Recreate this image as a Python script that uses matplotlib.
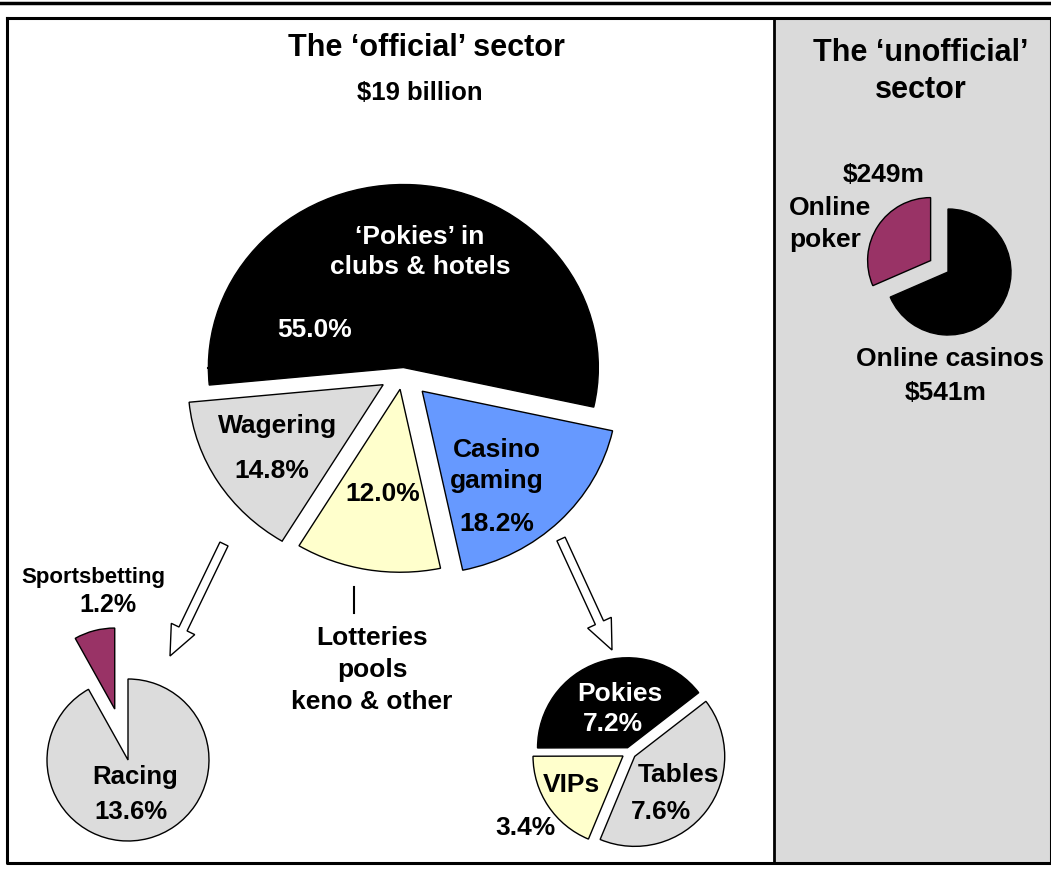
import matplotlib
matplotlib.use("Agg")
import matplotlib.pyplot as plt
from matplotlib.patches import Rectangle, FancyArrow

plt.rcParams['font.family'] = ['Liberation Sans', 'DejaVu Sans']
plt.rcParams['font.weight'] = 'bold'

W, H = 1051, 872

# official sector, share of $19 billion (%)
main_labels = ["'Pokies' in clubs & hotels", "Wagering", "Lotteries pools keno & other", "Casino gaming"]
main_values = [55.0, 14.8, 12.0, 18.2]
main_colors = ["black", "#dcdcdc", "#ffffcc", "#6699ff"]

# wagering split
wager_labels = ["Racing", "Sportsbetting"]
wager_values = [13.6, 1.2]
wager_colors = ["#dcdcdc", "#993366"]

# casino gaming split
casino_labels = ["Tables", "Pokies", "VIPs"]
casino_values = [7.6, 7.2, 3.4]
casino_colors = ["#dcdcdc", "black", "#ffffcc"]

# unofficial sector ($m)
online_labels = ["Online casinos", "Online poker"]
online_values = [541, 249]
online_colors = ["black", "#993366"]

fig = plt.figure(figsize=(W / 100, H / 100), dpi=100)

# background: frame and grey panel
bg = fig.add_axes([0, 0, 1, 1], zorder=0)
bg.set_xlim(0, W)
bg.set_ylim(H, 0)
bg.axis("off")
bg.add_patch(Rectangle((774, 18), W - 774, 845, fc="#dadada", ec="none"))
bg.plot([0, W], [3, 3], color="black", lw=2.5)
bg.plot([7, W, W, 7, 7], [18, 18, 863, 863, 18], color="black", lw=2.2)
bg.plot([774, 774], [18, 863], color="black", lw=2)


def pie_axes(cx, cy, rx, ry, zorder=1):
    # axes where one data unit is rx px wide and ry px tall, centred on (cx, cy) px
    span = 1.4
    ax = fig.add_axes([(cx - span * rx) / W, (H - cy - span * ry) / H,
                       2 * span * rx / W, 2 * span * ry / H], zorder=zorder)
    return ax


def finish(ax):
    ax.set_aspect("auto")
    ax.set_xlim(-1.4, 1.4)
    ax.set_ylim(-1.4, 1.4)
    ax.axis("off")
    ax.patch.set_alpha(0)


wp = dict(edgecolor="black", linewidth=1.0)

ax1 = pie_axes(403, 373, 195, 183)
ax1.pie(main_values, colors=main_colors, startangle=-12.5, counterclock=True,
        explode=[0.03, 0.12, 0.09, 0.14], wedgeprops=wp)
finish(ax1)

ax2 = pie_axes(128, 760, 81, 81)
ax2.pie(wager_values, colors=wager_colors, startangle=90, counterclock=False,
        explode=[0, 0.65], wedgeprops=wp)
finish(ax2)

ax3 = pie_axes(629, 752, 90, 90)
ax3.pie(casino_values, colors=casino_colors, startangle=-112.6, counterclock=True,
        explode=[0.08, 0.05, 0.08], wedgeprops=wp)
finish(ax3)

ax4 = pie_axes(948, 272, 63, 63)
ax4.pie(online_values, colors=online_colors, startangle=90, counterclock=False,
        explode=[0, 0.33], wedgeprops=wp)
finish(ax4)

# overlay for text and arrows
ov = fig.add_axes([0, 0, 1, 1], zorder=5)
ov.set_xlim(0, W)
ov.set_ylim(H, 0)
ov.axis("off")
ov.patch.set_alpha(0)


def t(x, y, s, size=19, color="black", ha="center"):
    ov.text(x, y, s, fontsize=size, color=color, ha=ha, va="center", fontweight="bold")


t(426, 48, "The \u2018official\u2019 sector", 22)
t(420, 93, "$19 billion", 18.5)
t(921, 53, "The \u2018unofficial\u2019", 22)
t(921, 90, "sector", 22)

t(420, 237, "\u2018Pokies\u2019 in", color="white")
t(420, 267, "clubs & hotels", color="white")
t(315, 330, "55.0%", color="white")
t(278, 426, "Wagering")
t(272, 471, "14.8%")
t(383, 494, "12.0%")
t(497, 450, "Casino")
t(497, 481, "gaming")
t(497, 524, "18.2%")
t(372, 638, "Lotteries")
t(372, 670, "pools")
t(372, 702, "keno & other")

t(93, 577, "Sportsbetting", 16)
t(108, 605, "1.2%", 18)
t(135, 777, "Racing", 18.5)
t(131, 812, "13.6%", 18.5)

t(620, 694, "Pokies", color="white")
t(613, 724, "7.2%", color="white")
t(571, 785, "VIPs")
t(525, 828, "3.4%")
t(678, 775, "Tables")
t(661, 812, "7.6%")

t(884, 175, "$249m")
t(789, 208, "Online", ha="left")
t(789, 240, "poker", ha="left")
t(950, 359, "Online casinos")
t(946, 393, "$541m")

# small leader ticks
ov.plot([208, 214], [368, 368], color="black", lw=1.5)
ov.plot([354, 354], [587, 613], color="black", lw=1.5)

# hollow arrows down to the split pies
for x0, y0, x1, y1 in [(224, 544, 170, 656), (561, 539, 612, 650)]:
    ov.add_patch(FancyArrow(x0, y0, x1 - x0, y1 - y0, width=9, head_width=26,
                            head_length=30, length_includes_head=True,
                            fc="white", ec="black", lw=1))

fig.savefig("out.png", dpi=100)
